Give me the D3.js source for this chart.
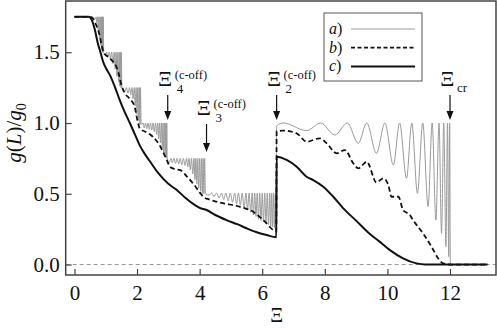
<!DOCTYPE html>
<html>
<head>
<meta charset="utf-8">
<script src="https://cdn.jsdelivr.net/npm/d3@7"></script>
<style>
  body { margin: 0; background: #fff; }
  text { font-family: "Liberation Serif", "Times New Roman", Times, serif; fill: #111; }
</style>
</head>
<body>
<svg id="chart"></svg>
<script>
// tick values
var xTicks = [0, 2, 4, 6, 8, 10, 12];
var yTicks = [0, 0.5, 1.0, 1.5];

// a) gray curve, left part (steps with oscillations)
var aLow = [[0,1.75],[0.55,1.75],[0.62,1.745],[0.66,1.735],[0.69,1.75],[0.715,1.71],[0.74,1.75],[0.76,1.66],[0.78,1.75],[0.80,1.6],[0.82,1.75],[0.835,1.55],[0.85,1.75],[0.865,1.52],[0.88,1.75],[0.89,1.5],[0.90,1.75],[0.91,1.5],[0.92,1.75],[0.935,1.5],
  [0.99,1.48],[1.03,1.5],[1.07,1.465],[1.11,1.5],[1.15,1.455],[1.19,1.5],[1.23,1.42],[1.27,1.5],[1.30,1.38],[1.33,1.5],[1.36,1.33],[1.385,1.5],[1.41,1.29],[1.43,1.5],[1.45,1.26],[1.47,1.5],[1.485,1.25],[1.50,1.5],[1.515,1.25],
  [1.56,1.24],[1.61,1.22],[1.66,1.25],[1.71,1.21],[1.76,1.25],[1.80,1.2],[1.84,1.25],[1.87,1.17],[1.91,1.25],[1.94,1.12],[1.97,1.25],[2.0,1.06],[2.025,1.25],[2.05,1.02],[2.07,1.25],[2.09,0.99],[2.11,1.25],[2.13,0.99],
  [2.19,1.0],[2.23,0.965],[2.27,1.0],[2.31,0.96],[2.35,1.0],[2.39,0.955],[2.43,1.0],[2.47,0.95],[2.51,1.0],[2.55,0.94],[2.59,1.0],[2.625,0.92],[2.66,1.0],[2.69,0.89],[2.72,1.0],[2.75,0.86],[2.78,1.0],[2.805,0.82],[2.83,1.0],[2.855,0.79],[2.88,1.0],[2.90,0.76],[2.92,1.0],[2.935,0.75],[2.95,1.0],[2.965,0.745],
  [3.03,0.72],[3.08,0.75],[3.13,0.72],[3.18,0.75],[3.23,0.715],[3.28,0.75],[3.33,0.71],[3.38,0.75],[3.43,0.705],[3.48,0.75],[3.53,0.70],[3.58,0.75],[3.62,0.69],[3.66,0.75],[3.70,0.67],[3.74,0.75],[3.78,0.64],[3.82,0.75],[3.85,0.6],[3.88,0.75],[3.91,0.57],[3.94,0.75],[3.97,0.54],[4.0,0.75],[4.03,0.52],[4.06,0.75],[4.085,0.5],[4.11,0.75],[4.135,0.5],[4.16,0.75],[4.185,0.5],
  [4.3,0.49],[4.38,0.505],[4.46,0.48],[4.54,0.505],[4.62,0.47],[4.70,0.505],[4.77,0.46],[4.84,0.505],[4.91,0.45],[4.98,0.505],[5.05,0.44],[5.12,0.505],[5.18,0.43],[5.24,0.505],[5.30,0.42],[5.36,0.505],[5.42,0.40],[5.48,0.505],[5.53,0.39],[5.58,0.505],[5.63,0.37],[5.68,0.505],[5.72,0.35],[5.76,0.505],[5.80,0.34],[5.84,0.505],[5.88,0.32],[5.92,0.505],[5.96,0.31],[6.0,0.505],[6.04,0.30],[6.08,0.505],[6.12,0.29],[6.16,0.505],[6.2,0.28],[6.24,0.505],[6.27,0.27],[6.30,0.505],[6.33,0.265],[6.36,0.505],[6.39,0.26],[6.42,0.505],[6.445,0.26]];

// a) gray curve, right part (chirp up to the critical value)
var aHigh = [[6.46,0.98],[6.67,1.0],[7.42,0.946],[7.87,1.0],[8.32,0.915],[8.72,1.0],[9.07,0.856],[9.34,1.0],[9.65,0.786],[9.92,1.0],[10.19,0.703],[10.39,1.0],[10.61,0.609],[10.78,1.0],[10.96,0.503],[11.13,1.0],[11.3,0.409],[11.43,1.0],[11.55,0.314],[11.65,1.0],[11.73,0.22],[11.8,1.0],[11.87,0.126],[11.92,1.0],[11.96,0.055],[11.99,1.0],[12.01,0],[13.2,0]];

// b) dashed curve
var seriesB = [[0,1.75],[0.5,1.75],[0.6,1.735],[0.7,1.69],[0.78,1.64],[0.86,1.56],[0.93,1.5],[1.0,1.48],[1.1,1.465],[1.2,1.44],[1.29,1.42],[1.4,1.36],[1.51,1.26],[1.61,1.21],[1.77,1.17],[1.93,1.11],[2.02,1.01],[2.09,0.96],[2.25,0.94],[2.41,0.92],[2.6,0.88],[2.73,0.84],[2.84,0.79],[2.95,0.74],[3.05,0.69],[3.2,0.675],[3.4,0.665],[3.58,0.625],[3.8,0.57],[4.0,0.51],[4.11,0.48],[4.3,0.46],[4.54,0.444],[4.8,0.43],[5.07,0.42],[5.4,0.40],[5.71,0.373],[5.9,0.34],[6.1,0.3],[6.35,0.244],[6.45,0.235],[6.46,0.94],[6.67,0.946],[7.1,0.927],[7.42,0.868],[7.84,0.892],[8.06,0.856],[8.38,0.786],[8.64,0.809],[8.91,0.715],[9.07,0.68],[9.34,0.727],[9.65,0.58],[9.87,0.609],[10.03,0.562],[10.13,0.479],[10.35,0.479],[10.5,0.385],[10.72,0.35],[10.82,0.314],[11.14,0.22],[11.41,0.126],[11.62,0.044],[11.78,0.008],[12.0,0],[13.2,0]];

// c) solid curve
var seriesC = [[0,1.75],[0.45,1.75],[0.55,1.73],[0.65,1.66],[0.75,1.56],[0.81,1.516],[0.92,1.43],[1.0,1.39],[1.13,1.34],[1.3,1.25],[1.45,1.16],[1.6,1.08],[1.77,1.0],[1.93,0.92],[2.09,0.84],[2.25,0.78],[2.41,0.73],[2.68,0.645],[2.84,0.605],[3.0,0.57],[3.27,0.527],[3.55,0.47],[3.85,0.42],[4.0,0.4],[4.22,0.385],[4.5,0.35],[4.86,0.314],[5.2,0.285],[5.5,0.256],[5.8,0.23],[6.14,0.208],[6.45,0.192],[6.46,0.762],[6.78,0.739],[7.1,0.691],[7.42,0.62],[7.63,0.597],[7.95,0.55],[8.27,0.479],[8.59,0.397],[9.0,0.31],[9.44,0.215],[9.76,0.16],[10.08,0.102],[10.5,0.044],[10.93,0.008],[11.2,0],[13.2,0]];

// cut-off markers
var cutXi = [2.98, 4.22, 6.46, 12.0];
var cutSub = ["4", "3", "2", "cr"];
var cutSup = ["(c-off)", "(c-off)", "(c-off)", ""];

var legendNames = ["a", "b", "c"];

// set the dimensions and margins of the graph
var margin = {top: 1, right: 1, bottom: 53, left: 65.7},
width = 497 - margin.left - margin.right,
height = 328 - margin.top - margin.bottom;

var svg = d3.select("#chart")
.attr("width", 497)
.attr("height", 328)
.append("g")
.attr("transform", "translate(" + margin.left + "," + margin.top + ")");

var x = d3.scaleLinear().domain([-0.28, 13.47]).range([0, width]);
var y = d3.scaleLinear().domain([-0.074, 1.862]).range([height, 0]);

// zero line
svg.append("line")
.attr("x1", 0).attr("x2", width)
.attr("y1", y(0)).attr("y2", y(0))
.attr("stroke", "#999")
.attr("stroke-width", 1)
.attr("stroke-dasharray", "4,3");

var line = d3.line()
.x(function(d) { return x(d[0]); })
.y(function(d) { return y(d[1]); })
.curve(d3.curveMonotoneX);

svg.append("path")
.datum(aLow.concat(aHigh))
.attr("d", line)
.attr("fill", "none")
.attr("stroke", "#9a9a9a")
.attr("stroke-width", 1);

svg.append("path")
.datum(seriesB)
.attr("d", line)
.attr("fill", "none")
.attr("stroke", "#111")
.attr("stroke-width", 1.8)
.attr("stroke-dasharray", "5,3");

svg.append("path")
.datum(seriesC)
.attr("d", line)
.attr("fill", "none")
.attr("stroke", "#111")
.attr("stroke-width", 2);

// axes with inward ticks
svg.append("g")
.attr("transform", "translate(0," + height + ")")
.call(d3.axisBottom(x).tickValues(xTicks).tickSizeInner(-6).tickSizeOuter(0).tickPadding(10).tickFormat(d3.format("d")))
.call(function(g) {
  g.select(".domain").remove();
  g.selectAll("line").attr("stroke", "#444").attr("stroke-width", 1.2);
  g.selectAll("text").attr("font-size", "21px").attr("fill", "#111");
});

svg.append("g")
.call(d3.axisLeft(y).tickValues(yTicks).tickSizeInner(-6).tickSizeOuter(0).tickPadding(6).tickFormat(d3.format(".1f")))
.call(function(g) {
  g.select(".domain").remove();
  g.selectAll("line").attr("stroke", "#444").attr("stroke-width", 1.2);
  g.selectAll("text").attr("font-size", "21px").attr("fill", "#111");
});

// frame
svg.append("rect")
.attr("width", width)
.attr("height", height)
.attr("fill", "none")
.attr("stroke", "#444")
.attr("stroke-width", 1.5);

// axis titles
svg.append("text")
.attr("x", x(6.46))
.attr("y", 322 - margin.top)
.attr("text-anchor", "middle")
.attr("font-size", "20px")
.text("Ξ");

var ylab = d3.select("#chart").append("text")
.attr("transform", "translate(21,133) rotate(-90)")
.attr("text-anchor", "middle")
.attr("font-size", "21px");
ylab.append("tspan").attr("font-style", "italic").text("g");
ylab.append("tspan").text("(");
ylab.append("tspan").attr("font-style", "italic").text("L");
ylab.append("tspan").text(")/");
ylab.append("tspan").attr("font-style", "italic").text("g");
ylab.append("tspan").attr("font-size", "14px").attr("dy", 5).text("0");

// cut-off arrows and labels
var arrowTop = [95, 124, 95, 95];
var arrowTip = [120, 152, 120, 120];
cutXi.forEach(function(v, i) {
  var px = x(v), top = arrowTop[i] - margin.top, tip = arrowTip[i] - margin.top;
  svg.append("line")
  .attr("x1", px).attr("x2", px)
  .attr("y1", top).attr("y2", tip - 6)
  .attr("stroke", "#111").attr("stroke-width", 1.2);
  svg.append("path")
  .attr("d", "M" + (px - 3.5) + "," + (tip - 9) + "L" + (px + 3.5) + "," + (tip - 9) + "L" + px + "," + tip + "Z")
  .attr("fill", "#111");
  svg.append("text")
  .attr("x", px + 4.5).attr("y", top - 9.5)
  .attr("text-anchor", "end")
  .attr("font-size", "22px")
  .text("Ξ");
  svg.append("text")
  .attr("x", px + (cutSub[i] == "cr" ? 7 : 9)).attr("y", top - (cutSub[i] == "cr" ? 3 : 2))
  .attr("font-size", "13px")
  .text(cutSub[i]);
  svg.append("text")
  .attr("x", px + 7).attr("y", top - 16)
  .attr("font-size", "12.5px")
  .text(cutSup[i]);
});

// legend
var legend = svg.append("g").attr("transform", "translate(" + (324 - margin.left) + "," + (13 - margin.top) + ")");
legend.append("rect")
.attr("width", 98).attr("height", 68)
.attr("fill", "#fff")
.attr("stroke", "#555")
.attr("stroke-width", 1);
var legendStroke = ["#9a9a9a", "#111", "#111"];
var legendWidth = [1, 1.8, 2];
legendNames.forEach(function(n, i) {
  var ly = 16 + i * 18.7;
  var t = legend.append("text").attr("x", 5).attr("y", ly + 5).attr("font-size", "16px");
  t.append("tspan").attr("font-style", "italic").text(n);
  t.append("tspan").text(")");
  legend.append("line")
  .attr("x1", 27).attr("x2", 91)
  .attr("y1", ly).attr("y2", ly)
  .attr("stroke", legendStroke[i])
  .attr("stroke-width", legendWidth[i])
  .attr("stroke-dasharray", i == 1 ? "4,2.5" : null);
});
</script>
</body>
</html>
